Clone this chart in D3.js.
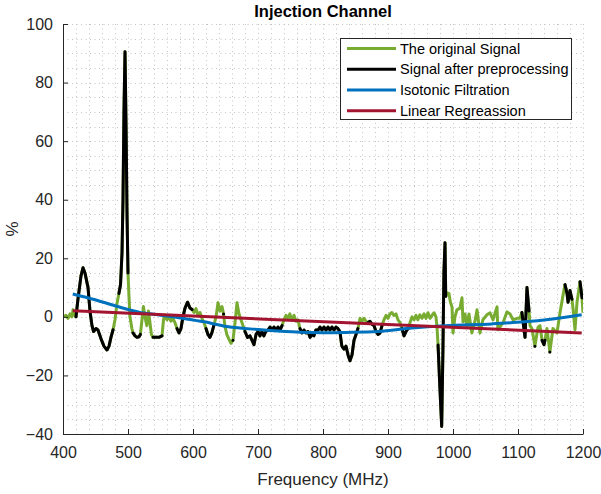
<!DOCTYPE html>
<html>
<head>
<meta charset="utf-8">
<script src="https://cdn.jsdelivr.net/npm/d3@7"></script>
<style>
  html, body { margin: 0; padding: 0; background: #fff; }
  svg { display: block; font-family: "Liberation Sans", Arial, Helvetica, sans-serif; }
</style>
</head>
<body>
<svg id="chart" width="601" height="494"></svg>
<script>
// Frequency samples (MHz)
const frequencyMHz = [
  400, 404.6, 407.7, 410.8, 413.8, 415.4, 418.5, 420, 423, 427.7, 430.8, 433.8, 438.5, 441.5, 444.6, 447,
  450.8, 453.8, 458.5, 463, 467.7, 470.8, 473.8, 477, 480, 483, 486, 488.5, 490.8, 492.3, 493.8, 495.4,
  497, 498.5, 500, 501.5, 503, 506, 507.7, 510.8, 513.8, 517, 519, 521.5, 523.8, 526, 529, 531.5,
  533.8, 536, 538.5, 543, 547.7, 552.3, 554.6, 557, 560, 563, 566, 569, 572.3, 575.4, 578.5, 581.5,
  584.6, 587.7, 591.5, 595.4, 598.5, 601.5, 604.6, 607.7, 610.8, 613.8, 616.9, 620, 623, 626, 629, 632,
  635.4, 638.5, 641.5, 644.6, 647, 649, 652, 655, 658.5, 661.5, 664.6, 667.7, 670.8, 673.8, 677, 680,
  683.8, 687.7, 690.8, 693.8, 697, 700, 703, 706, 709, 712, 715.4, 718.5, 721.5, 724.6, 727.7, 730.8,
  733.8, 737, 740, 743, 746, 749, 752, 755.4, 758.5, 761.5, 764.6, 767.7, 770.8, 773.8, 777, 780,
  783, 786, 789, 792.3, 795.4, 798.5, 801.5, 804.6, 807.7, 810.8, 813.8, 817, 820, 823, 826, 829,
  832.3, 835.4, 838.5, 841.5, 844.6, 847.7, 850.8, 853.8, 857, 860, 863, 866, 869, 872.3, 875.4, 878.5,
  881.5, 884.6, 887.7, 890.8, 893.8, 897, 900, 903, 906, 909, 912.3, 915.4, 918.5, 921.5, 924.6, 927.7,
  930.8, 933.8, 937, 940, 943, 946, 949, 952.3, 955.4, 958.5, 961.5, 964.6, 967.7, 970.8, 973.8, 975.4,
  977, 980, 982.6, 984.6, 986, 987.7, 988.8, 990.8, 993.8, 996, 998.5, 1000, 1003, 1006, 1010.8, 1013.8,
  1015.4, 1018.5, 1021.5, 1024.6, 1029, 1033.8, 1037, 1041.5, 1046, 1052.3, 1057, 1061.5, 1067.7, 1069, 1077, 1083,
  1087.7, 1092.3, 1098.5, 1103, 1106, 1110.8, 1113.8, 1117, 1118.5, 1121.5, 1126, 1130.8, 1133.8, 1137, 1140, 1141.5,
  1144.6, 1149, 1153.8, 1160, 1164.6, 1169, 1172.3, 1175.4, 1177, 1180, 1183, 1184.6, 1187.7, 1190.8, 1195.4, 1198.5,
  1200
];

// Measured signal (%)
const originalSignal = [
  0, 0.5, -0.5, 1, 0, 2.4, 0.5, 0, 6, 14, 16.8, 15, 10, 2, -3, -5,
  -4, -4.5, -7.5, -10, -11.3, -10, -7, -4.4, -1, 4.5, 8, 11, 22, 40, 70, 90.5,
  65, 35, 15, 7, 0, -4, -5.5, -6.5, -7, -6.8, -6, -1, 3.5, 0, -3, 2,
  -2, -6, -7, -7, -7, -6.5, -1, 0.5, -1, 0, -1.5, -0.5, -2, -4, -5.5, -4,
  0, 3, 5, 3, 2.5, 1.5, 2.8, 0.5, 1.5, -0.5, -2, -4, -6, -7, -5.5, -3,
  0, 4.8, 2, 3.5, 1, -3, -6, -7.5, -9, -8, -2, 4.8, 1, -1, -3, -5,
  -7, -6.5, -8, -9.5, -6, -5, -6.5, -5, -6.5, -5, -4.5, -3.5, -4.5, -3.5, -4.5, -3.5,
  -4.5, -3, -1, 0.5, -0.5, 1, -1, 0.5, -1.5, -1, -4, -5.5, -4.5, -5.5, -5, -7,
  -6, -6.5, -4.5, -4.5, -3.5, -4.5, -3.5, -4.5, -3.5, -4.5, -3.5, -4.5, -3.5, -4, -5, -10,
  -11, -10, -13, -15, -13, -8, -6, -4, -0.5, -1.5, -0.5, -1.5, -2, -1.5, -2.5, -3,
  -5, -6, -5.5, -3, -1, 0.5, -0.5, 1, 1.5, 0.5, 1, -1, -2, -4, -6.5, -5,
  -4, -2, 0, -1, 0.5, -1, 0.7, -0.5, 1, -0.5, 1.4, -0.5, 0.5, 1.4, 0, -3.5,
  -9.6, -25, -37.4, -10, 15, 25.3, 7, 8.2, 8, 5, 3.4, -5.5, 0, 2.4, 3, 6.5,
  -1.7, 1, -3.4, 1, -5.5, -1.5, 2.4, -5.5, -1, 0.7, 1.4, -1, 3.4, -4.4, -2, 1.7,
  1, -1, -0.5, -0.5, 1.5, -7, 10, 2, -3, -4, -10, -3.5, -3, -8, -9.5, -8,
  -4, -12, -4, -5.5, 1.4, 7, 11, 8, 5, 9, 6, 3, -4.4, 5, 12, 6.5,
  1.4
];

// Frequency spans (MHz) where the preprocessed signal departs from the original
const preprocessedSpans = [
  [420, 477], [486, 500], [507.7, 519], [538.5, 552.3], [575.4, 598.5], [620, 632],
  [647, 647], [661.5, 661.5], [680, 737], [764.6, 853.8], [869, 890.8], [921.5, 930.8],
  [977, 988.8], [1106, 1117], [1126, 1126], [1137, 1141.5], [1149, 1149], [1172.3, 1183],
  [1195.4, 1198.5]
];

// Isotonic filtration curve (%)
const isotonicFreq = [415, 438, 465, 492, 517, 543, 569, 590, 617, 652, 705, 752, 800, 835, 885, 937, 988, 1060, 1110, 1150, 1198];
const isotonicValues = [7.8, 6.5, 4.8, 3, 1.6, 0.8, 0, -0.7, -1.7, -3.3, -4.4, -5.1, -5.4, -5.3, -5, -3.8, -3, -2.4, -1.7, -0.8, 0.7];

// Linear regression end points (%)
const regressionFreq = [415, 1198];
const regressionValues = [2.1, -5.5];

// Axis ticks
const xTicks = [400, 500, 600, 700, 800, 900, 1000, 1100, 1200];
const yTicks = [-40, -20, 0, 20, 40, 60, 80, 100];

const legendLabels = ["The original Signal", "Signal after preprocessing", "Isotonic Filtration", "Linear Regreassion"];
const colors = { original: "#77AC30", processed: "#000000", isotonic: "#0072BD", regression: "#A2142F" };

const svg = d3.select("#chart");
const margin = { left: 63, right: 18, top: 24, bottom: 60 };
const W = 601, H = 494;

const x = d3.scaleLinear().domain([400, 1200]).range([margin.left, W - margin.right]);
const y = d3.scaleLinear().domain([-40, 100]).range([H - margin.bottom, margin.top]);

// Dotted minor grid
const grid = svg.append("g").attr("stroke", "#c4c4c4").attr("stroke-width", 1).attr("stroke-dasharray", "1,3.5");
d3.range(420, 1201, 20).forEach(v => {
  grid.append("line").attr("x1", Math.round(x(v)) + 0.5).attr("x2", Math.round(x(v)) + 0.5).attr("y1", y(100)).attr("y2", y(-40));
});
d3.range(-35, 101, 5).forEach(v => {
  grid.append("line").attr("x1", x(400)).attr("x2", x(1200)).attr("y1", Math.round(y(v)) + 0.5).attr("y2", Math.round(y(v)) + 0.5);
});

const clipId = "plot-clip";
svg.append("clipPath").attr("id", clipId).append("rect")
  .attr("x", x(400)).attr("y", y(100)).attr("width", x(1200) - x(400)).attr("height", y(-40) - y(100));

const plot = svg.append("g").attr("clip-path", `url(#${clipId})`);

const signalPoints = frequencyMHz.map((f, i) => ({ f, v: originalSignal[i] }));
const inSpan = f => preprocessedSpans.some(([a, b]) => f >= a - 1e-6 && f <= b + 1e-6);
const processedPoints = frequencyMHz.map((f, i) => ({ f, v: inSpan(f) ? originalSignal[i] : null }));

const line = d3.line().x(d => x(d.f)).y(d => y(d.v)).defined(d => d.v !== null);

plot.append("path").datum(signalPoints)
  .attr("fill", "none").attr("stroke", colors.original).attr("stroke-width", 3)
  .attr("stroke-linejoin", "round").attr("d", line);

plot.append("path").datum(processedPoints)
  .attr("fill", "none").attr("stroke", colors.processed).attr("stroke-width", 3)
  .attr("stroke-linejoin", "round").attr("stroke-linecap", "round").attr("d", line);

const isoPoints = isotonicFreq.map((f, i) => ({ f, v: isotonicValues[i] }));
plot.append("path").datum(isoPoints)
  .attr("fill", "none").attr("stroke", colors.isotonic).attr("stroke-width", 3)
  .attr("d", d3.line().x(d => x(d.f)).y(d => y(d.v)).curve(d3.curveMonotoneX));

const regPoints = regressionFreq.map((f, i) => ({ f, v: regressionValues[i] }));
plot.append("path").datum(regPoints)
  .attr("fill", "none").attr("stroke", colors.regression).attr("stroke-width", 3)
  .attr("d", d3.line().x(d => x(d.f)).y(d => y(d.v)));

// Axes (left and bottom, ticks pointing inward)
const axisColor = "#262626";
const xAxis = svg.append("g").attr("transform", `translate(0,${y(-40)})`)
  .call(d3.axisBottom(x).tickValues(xTicks).tickFormat(d3.format("d")).tickSizeInner(-5).tickSizeOuter(0).tickPadding(13));
const yAxis = svg.append("g").attr("transform", `translate(${x(400)},0)`)
  .call(d3.axisLeft(y).tickValues(yTicks).tickFormat(d3.format("d")).tickSizeInner(-5).tickSizeOuter(0).tickPadding(10));
[xAxis, yAxis].forEach(g => {
  g.select(".domain").attr("stroke", axisColor);
  g.selectAll(".tick line").attr("stroke", axisColor);
  g.selectAll(".tick text").attr("fill", axisColor).attr("font-size", 16)
    .style("font-family", '"Liberation Sans", Arial, sans-serif');
});

// Titles
svg.append("text").attr("x", (x(400) + x(1200)) / 2).attr("y", 17)
  .attr("text-anchor", "middle").attr("font-weight", "bold").attr("font-size", 16.5).attr("fill", "#000")
  .text("Injection Channel");
svg.append("text").attr("x", (x(400) + x(1200)) / 2).attr("y", 485)
  .attr("text-anchor", "middle").attr("font-size", 17).attr("fill", axisColor)
  .text("Frequency (MHz)");
svg.append("text").attr("transform", `translate(18,${(y(100) + y(-40)) / 2}) rotate(-90)`)
  .attr("text-anchor", "middle").attr("font-size", 17).attr("fill", axisColor)
  .text("%");

// Legend
const legend = svg.append("g");
legend.append("rect").attr("x", 340.5).attr("y", 38.5).attr("width", 231).attr("height", 81)
  .attr("fill", "#fff").attr("stroke", axisColor).attr("stroke-width", 1);
const legendColors = [colors.original, colors.processed, colors.isotonic, colors.regression];
legendLabels.forEach((label, i) => {
  const cy = 48.6 + i * 20.7;
  legend.append("line").attr("x1", 347).attr("x2", 396).attr("y1", cy).attr("y2", cy)
    .attr("stroke", legendColors[i]).attr("stroke-width", 3);
  legend.append("text").attr("x", 400).attr("y", cy).attr("dy", "0.35em")
    .attr("font-size", 14.5).attr("fill", "#000").text(label);
});
</script>
</body>
</html>
